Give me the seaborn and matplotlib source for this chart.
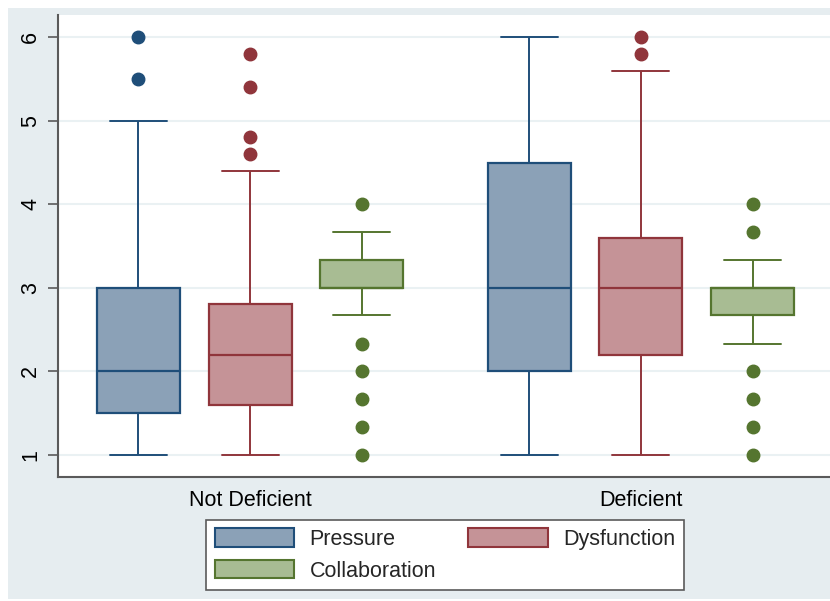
import numpy as np
import pandas as pd
import matplotlib
matplotlib.use("Agg")
import matplotlib.pyplot as plt
from matplotlib.patches import Patch, Rectangle
import seaborn as sns

# --- Data (scores: quartiles, whisker ends, outliers) ---
groups = ["Not Deficient", "Deficient"]
measures = ["Pressure", "Dysfunction", "Collaboration"]

pressure_not = [1, 1.2, 1.5, 1.5, 1.8, 2, 2, 2.5, 3, 3, 5, 5.5, 6]
dysfunction_not = [1, 1.2, 1.4, 1.6, 1.6, 1.6, 1.8, 2, 2, 2.2, 2.2,
                   2.4, 2.4, 2.6, 2.8, 2.8, 4.4, 4.6, 4.8, 5.4, 5.8]
collaboration_not = [1, 1.33, 1.67, 2, 2.33, 2.67, 3, 3, 3, 3, 3, 3, 3,
                     3.33, 3.33, 3.33, 3.33, 3.33, 3.33, 3.33, 3.33, 3.33, 3.33,
                     3.67, 4]

pressure_def = [1, 2, 2, 2.5, 3, 4, 4.5, 5, 6]
dysfunction_def = [1, 1.8, 2, 2.2, 2.6, 2.8, 3, 3.2, 3.4, 3.6, 5.6, 5.8, 6]
collaboration_def = [1, 1.33, 1.67, 2, 2.33, 2.67, 2.67, 2.67, 3, 3, 3, 3,
                     3, 3, 3, 3, 3.33, 3.33, 3.33, 3.67, 4]

fill_colors = ["#8BA1B7", "#C59397", "#A8BC93"]
edge_colors = ["#1F4E79", "#90353B", "#55752F"]

series = {
    ("Not Deficient", "Pressure"): pressure_not,
    ("Not Deficient", "Dysfunction"): dysfunction_not,
    ("Not Deficient", "Collaboration"): collaboration_not,
    ("Deficient", "Pressure"): pressure_def,
    ("Deficient", "Dysfunction"): dysfunction_def,
    ("Deficient", "Collaboration"): collaboration_def,
}
rows = []
for (g, m), vals in series.items():
    rows += [{"group": g, "measure": m, "value": v} for v in vals]
df = pd.DataFrame(rows)

# --- Plot ---
sns.set_theme(style="white")
plt.rcParams['font.family'] = ['Liberation Sans', 'DejaVu Sans']
FS = 15.5

fig = plt.figure(figsize=(8.3, 6.01), dpi=100)
fig.patch.set_facecolor("white")
fig.patches.append(Rectangle((8 / 830, 2 / 601), 1, 591 / 601, transform=fig.transFigure,
                             facecolor="#E6EDF0", edgecolor="none", zorder=-10))
ax = fig.add_axes([58 / 830, 124 / 601, 772 / 830, 462 / 601])
ax.set_facecolor("white")

sns.boxplot(data=df, x="group", y="value", hue="measure", order=groups,
            hue_order=measures, palette=fill_colors, saturation=1,
            width=0.858, gap=0.257, whis=1.45, linewidth=1.6, legend=False,
            flierprops=dict(marker="o", markersize=9), ax=ax)

# Stata-like per-series outline colours and narrower caps
for cont, ec in zip(ax.containers, edge_colors):
    for b in cont.boxes:
        b.set_edgecolor(ec)
    for l in list(cont.medians) + list(cont.whiskers) + list(cont.caps):
        l.set_color(ec)
    for l in list(cont.whiskers) + list(cont.caps):
        l.set_linewidth(1.4)
    for c in cont.caps:
        x = np.asarray(c.get_xdata(), dtype=float)
        mid = x.mean()
        c.set_xdata([mid - 0.073, mid + 0.073])
    for f in cont.fliers:
        f.set_markerfacecolor(ec)
        f.set_markeredgecolor(ec)

ax.set_xlim(-0.4914, 1.4837)
ax.set_ylim(0.733, 6.267)
ax.set_yticks([1, 2, 3, 4, 5, 6])
ax.set_yticklabels(["1", "2", "3", "4", "5", "6"], rotation=90, va="center")
ax.yaxis.grid(True, color="#EAF1F3", linewidth=1.5)
ax.xaxis.grid(False)
ax.set_axisbelow(True)
ax.set_xlabel("")
ax.set_ylabel("")

for side in ["top", "right"]:
    ax.spines[side].set_visible(False)
for side in ["left", "bottom"]:
    ax.spines[side].set_color("#5A5A5A")
    ax.spines[side].set_linewidth(1.5)

ax.tick_params(axis="y", length=7, width=1.2, color="#5A5A5A", labelsize=FS,
               pad=5, left=True, labelcolor="black")
ax.tick_params(axis="x", length=0, labelsize=FS, pad=9, labelcolor="black")

handles = [Patch(facecolor=fc, edgecolor=ec, linewidth=1.5, label=m)
           for m, fc, ec in zip(measures, fill_colors, edge_colors)]
leg = fig.legend(handles=[handles[0], handles[2], handles[1]], loc="center",
                 bbox_to_anchor=(445 / 830, 1 - 555 / 601), ncol=2,
                 frameon=True, fancybox=False, edgecolor="#5A5A5A",
                 facecolor="white", framealpha=1, fontsize=FS,
                 handlelength=3.7, handleheight=0.95, handletextpad=0.7,
                 columnspacing=1.5, labelspacing=0.45, borderpad=0.4)
leg.get_frame().set_linewidth(1.2)

fig.savefig("out.png", dpi=100)
